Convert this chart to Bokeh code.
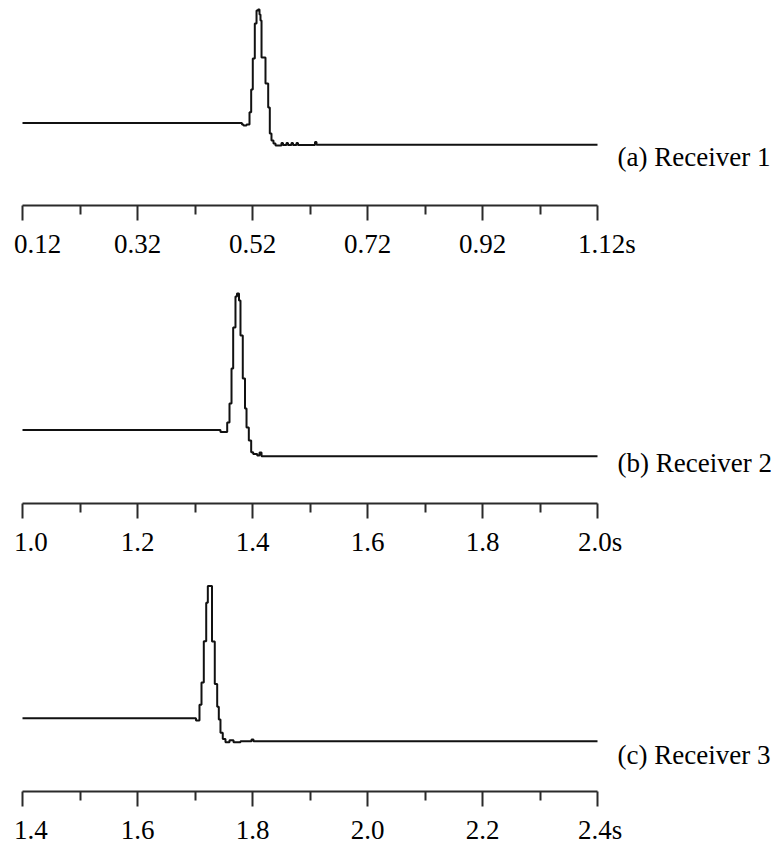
from bokeh.plotting import figure
from bokeh.models import LinearAxis, FixedTicker, Range1d
from bokeh.layouts import column
from bokeh.embed import file_html
from bokeh.resources import INLINE
from bokeh.core.properties import value

# ---------------- data ----------------
# Receiver 1: time (s) and amplitude (arbitrary units, 0 = pre-arrival level)
time_1 = [0.12, 0.5017, 0.5043, 0.5096, 0.5148, 0.5177, 0.5205, 0.5240, 0.5270,
          0.5296, 0.5322, 0.5339, 0.5357, 0.5426, 0.5473, 0.5501, 0.5530, 0.5565,
          0.5600, 0.5704, 0.5730, 0.5791, 0.5817, 0.5878, 0.5904, 0.5965, 0.5991,
          0.6287, 0.6313, 1.12]
amp_1 = [0, -1.5, -2.5, -1.5, 10.8, 33.5, 64.5, 99.5, 112.5,
         113.5, 108.5, 102.5, 65.5, 39.5, 15.5, -10.5, -17.5, -20.5,
         -22.5, -20, -22, -20, -22, -20, -22, -20, -22,
         -19, -21.8, -21.8]

# Receiver 2
time_2 = [1.0, 1.3443, 1.3560, 1.3600, 1.3635, 1.3664, 1.3704, 1.3730, 1.3765,
          1.3791, 1.3831, 1.3870, 1.3896, 1.3936, 1.3977, 1.4012, 1.4082, 1.4122,
          1.4157, 2.0]
amp_2 = [0, -2, 7.5, 26.5, 61.5, 102.5, 133.5, 136.5, 129.5,
         94.5, 51.5, 21.5, 2.5, -10.5, -22.2, -24, -25.5, -22.5,
         -26.2, -26.2]

# Receiver 3
time_3 = [1.4, 1.7017, 1.7078, 1.7113, 1.7153, 1.7195, 1.7223, 1.7296, 1.7344,
          1.7386, 1.7414, 1.7443, 1.7483, 1.7530, 1.7600, 1.7670, 1.7791, 1.7983,
          1.8017, 2.4]
amp_3 = [0, -2.3, 13.7, 36.7, 79, 118.4, 135.7, 78.7, 35,
         11.7, -1.3, -15, -21.3, -24.8, -22.8, -24.8, -23.8, -21.8,
         -23.8, -23.8]

ticks_1 = [0.12, 0.32, 0.52, 0.72, 0.92, 1.12]
minor_1 = [0.22, 0.42, 0.62, 0.82, 1.02]
tick_labels_1 = ["0.12", "0.32", "0.52", "0.72", "0.92", "1.12s"]

ticks_2 = [1.0, 1.2, 1.4, 1.6, 1.8, 2.0]
minor_2 = [1.1, 1.3, 1.5, 1.7, 1.9]
tick_labels_2 = ["1.0", "1.2", "1.4", "1.6", "1.8", "2.0s"]

ticks_3 = [1.4, 1.6, 1.8, 2.0, 2.2, 2.4]
minor_3 = [1.5, 1.7, 1.9, 2.1, 2.3]
tick_labels_3 = ["1.4", "1.6", "1.8", "2.0", "2.2", "2.4s"]

panel_labels = ["(a) Receiver 1", "(b) Receiver 2", "(c) Receiver 3"]

# ---------------- layout / style ----------------
W = 778
AX_LEFT = 22          # px of first tick
PX_PER_S = 575        # px per second
FONT = "Liberation Serif"
FS = "27px"
EN = "\u2002"
THIN = "\u2009"

panels = [
    dict(t=time_1, a=amp_1, ticks=ticks_1, minor=minor_1, labels=tick_labels_1,
         name=panel_labels[0], top=0, axis=205, base=122.5, lab=156, height=270,
         first_pad=EN, last_pad=EN + THIN),
    dict(t=time_2, a=amp_2, ticks=ticks_2, minor=minor_2, labels=tick_labels_2,
         name=panel_labels[1], top=270, axis=503, base=429.5, lab=462, height=297,
         first_pad=EN, last_pad=THIN),
    dict(t=time_3, a=amp_3, ticks=ticks_3, minor=minor_3, labels=tick_labels_3,
         name=panel_labels[2], top=567, axis=797, base=721.7, lab=760, height=280,
         first_pad=EN, last_pad=THIN),
]

figs = []
for pnl in panels:
    t0 = pnl["ticks"][0]
    t1 = pnl["ticks"][-1]
    x_start = t0 - AX_LEFT / PX_PER_S
    x_end = t0 + (W - AX_LEFT) / PX_PER_S
    frame_h = pnl["axis"] - pnl["top"]
    y_start = pnl["base"] - pnl["axis"]
    y_end = pnl["base"] - pnl["top"]

    p = figure(width=W, height=pnl["height"], output_backend="svg", toolbar_location=None,
               x_axis_type=None, y_axis_type=None,
               x_range=Range1d(x_start, x_end), y_range=Range1d(y_start, y_end),
               min_border_left=0, min_border_right=0, min_border_top=0,
               min_border_bottom=pnl["height"] - frame_h)
    p.outline_line_color = None
    p.background_fill_color = "white"
    p.border_fill_color = "white"
    p.xgrid.visible = False
    p.ygrid.visible = False

    p.step(pnl["t"], pnl["a"], mode="after", line_width=2, line_color="#111111")

    overrides = dict(zip(pnl["ticks"], pnl["labels"]))
    overrides[pnl["ticks"][0]] = pnl["first_pad"] + pnl["labels"][0]
    overrides[pnl["ticks"][-1]] = pnl["last_pad"] + pnl["labels"][-1]

    ax = LinearAxis(ticker=FixedTicker(ticks=pnl["ticks"], minor_ticks=pnl["minor"]),
                    bounds=(t0, t1), major_label_overrides=overrides)
    ax.axis_line_width = 2
    ax.axis_line_color = "#2a2a2a"
    ax.major_tick_line_width = 2
    ax.major_tick_line_color = "#2a2a2a"
    ax.minor_tick_line_width = 2
    ax.minor_tick_line_color = "#2a2a2a"
    ax.major_tick_in = 0
    ax.major_tick_out = 15
    ax.minor_tick_in = 0
    ax.minor_tick_out = 9
    ax.major_label_text_font = FONT
    ax.major_label_text_font_size = FS
    ax.major_label_text_color = "black"
    ax.major_label_standoff = 8
    p.add_layout(ax, "below")

    lab_x = t0 + (617 - AX_LEFT) / PX_PER_S
    p.text(x=[lab_x], y=[pnl["base"] - pnl["lab"]], text=[pnl["name"]],
           text_font=value(FONT), text_font_size=value(FS), text_color="black",
           text_align="left", text_baseline="alphabetic")
    figs.append(p)

layout = column(*figs, spacing=0)
open("out.html", "w").write(file_html(layout, INLINE))
